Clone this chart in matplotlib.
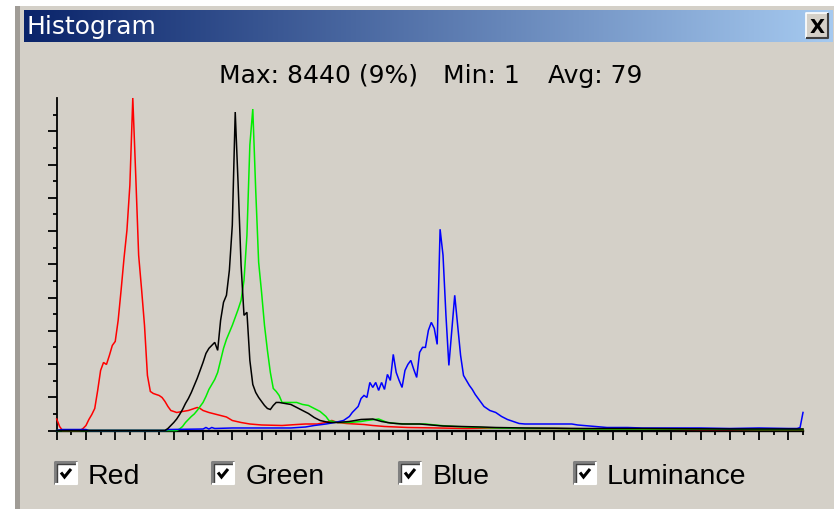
import matplotlib
matplotlib.use("Agg")
import matplotlib.pyplot as plt
import numpy as np
from matplotlib.patches import Rectangle

# ---------------- data (bin index, pixel count) ----------------
red_points = [(0, 292), (1, 100), (2, 0), (8, 0), (9, 51), (10, 127), (11, 280), (12, 406),
              (13, 559), (14, 1016), (15, 1524), (16, 1727), (17, 1676), (18, 1905), (19, 2159),
              (20, 2261), (21, 2796), (22, 3559), (23, 4372), (24, 5084), (25, 6228), (26, 8440),
              (27, 6482), (28, 4449), (29, 3584), (30, 2669), (31, 1398), (32, 991), (33, 940),
              (34, 914), (35, 889), (36, 838), (37, 737), (38, 610), (39, 508), (40, 483),
              (41, 457), (43, 483), (45, 508), (47, 559), (48, 584), (49, 559), (50, 508),
              (52, 457), (54, 419), (56, 381), (58, 343), (60, 254), (63, 203), (66, 165),
              (70, 140), (77, 127), (82, 152), (85, 165), (89, 165), (92, 203), (94, 254),
              (96, 203), (99, 178), (102, 165), (105, 152), (108, 127), (112, 102), (116, 89),
              (120, 76), (130, 64), (140, 51), (150, 64), (160, 51), (170, 51), (180, 38),
              (200, 38), (220, 25), (240, 25), (255, 25)]

green_points = [(0, 0), (41, 0), (42, 38), (43, 102), (44, 203), (45, 280), (46, 356), (47, 419),
                (48, 508), (49, 610), (50, 712), (51, 864), (52, 1042), (53, 1169), (54, 1296),
                (55, 1474), (56, 1779), (57, 2084), (58, 2313), (59, 2491), (60, 2669), (61, 2872),
                (62, 3076), (63, 3305), (64, 3813), (65, 4957), (66, 7245), (67, 8160), (68, 6101),
                (69, 4271), (70, 3508), (71, 2669), (72, 2034), (73, 1474), (74, 1068), (75, 991),
                (76, 890), (77, 712), (80, 712), (82, 712), (84, 661), (86, 636), (88, 559),
                (90, 483), (92, 356), (93, 254), (96, 203), (100, 203), (104, 229), (106, 254),
                (110, 292), (113, 203), (116, 178), (120, 165), (126, 165), (131, 127), (136, 102),
                (140, 89), (145, 76), (150, 64), (160, 51), (170, 51), (180, 38), (200, 38),
                (220, 38), (240, 25), (255, 25)]

blue_points = [(0, 0), (2, 25), (10, 25), (11, 0), (37, 0), (38, 25), (50, 38), (51, 76), (52, 38),
               (53, 76), (54, 51), (60, 64), (70, 64), (80, 64), (85, 89), (88, 127), (92, 165),
               (95, 203), (98, 254), (100, 356), (101, 458), (103, 610), (104, 813), (105, 890),
               (106, 839), (107, 1220), (108, 1093), (109, 1220), (110, 1017), (111, 1220),
               (112, 1042), (113, 1424), (114, 1271), (115, 1932), (116, 1474), (117, 1271),
               (118, 1093), (119, 1525), (120, 1678), (121, 1779), (122, 1551), (123, 1347),
               (124, 1983), (125, 2110), (126, 2110), (127, 2542), (128, 2745), (129, 2593),
               (130, 2186), (131, 5109), (132, 4449), (133, 2923), (134, 1652), (135, 2542),
               (136, 3432), (137, 2669), (138, 1907), (139, 1398), (140, 1271), (141, 1144),
               (142, 1042), (143, 915), (144, 813), (145, 712), (146, 610), (147, 559), (148, 508),
               (150, 458), (152, 356), (154, 280), (156, 229), (158, 178), (160, 165), (165, 165),
               (170, 165), (176, 165), (178, 140), (180, 127), (184, 102), (188, 76), (195, 76),
               (200, 64), (210, 64), (220, 64), (230, 51), (240, 64), (250, 51), (253, 51),
               (254, 76), (255, 458)]

lum_points = [(0, 0), (37, 0), (38, 51), (39, 127), (40, 203), (41, 292), (42, 407), (43, 534),
              (44, 686), (45, 813), (46, 966), (47, 1144), (48, 1322), (49, 1525), (50, 1729),
              (51, 1957), (52, 2084), (53, 2161), (54, 2237), (55, 2034), (56, 2796), (57, 3254),
              (58, 3432), (59, 4067), (60, 5211), (61, 8084), (62, 6228), (63, 4194), (64, 2923),
              (65, 3000), (66, 1779), (67, 1169), (68, 966), (69, 839), (70, 737), (71, 636),
              (72, 559), (73, 534), (74, 636), (75, 712), (76, 712), (78, 686), (80, 661),
              (82, 585), (84, 508), (86, 432), (88, 330), (90, 254), (93, 203), (96, 203),
              (100, 229), (104, 280), (108, 292), (111, 229), (114, 191), (118, 165), (124, 165),
              (128, 140), (132, 114), (138, 102), (145, 89), (150, 76), (160, 64), (180, 51),
              (200, 51), (230, 38), (255, 38)]

series_names = ["Red", "Green", "Blue", "Luminance"]
series_colors = ["#FF0000", "#00EE00", "#0000FF", "#000000"]
stats_texts = ["Max: 8440 (9%)", "Min: 1", "Avg: 79"]
title_text = "Histogram"
y_max = 8440
y_step = 844

# ---------------- figure ----------------
W, H = 834, 510
GREY = "#D4D0C8"
fig = plt.figure(figsize=(W / 100, H / 100), dpi=100, facecolor=GREY)

bg = fig.add_axes([0, 0, 1, 1], zorder=0)
bg.set_xlim(0, W)
bg.set_ylim(H, 0)
bg.axis("off")

# window frame
bg.add_patch(Rectangle((0, 0), 15, H, facecolor="white", edgecolor="none"))
bg.add_patch(Rectangle((0, 0), W, 7, facecolor="white", edgecolor="none"))
bg.add_patch(Rectangle((15, 7), 5, H, facecolor="#A09C96", edgecolor="none"))

# title bar gradient
c0 = np.array([10, 36, 106]) / 255
c1 = np.array([166, 202, 240]) / 255
t = np.linspace(0, 1, 400)[None, :, None]
grad = c0 + (c1 - c0) * t
bg.imshow(grad, extent=(24, 833, 43, 11), aspect="auto", interpolation="bilinear", zorder=1)
bg.set_xlim(0, W)
bg.set_ylim(H, 0)
bg.text(27, 27, title_text, color="white", fontsize=18, family="DejaVu Sans",
        va="center", ha="left", zorder=3)

# close button
bx, by, bw, bh = 806, 14, 22, 25
bg.add_patch(Rectangle((bx, by), bw, bh, facecolor=GREY, edgecolor="none", zorder=2))
bg.plot([bx, bx, bx + bw], [by + bh, by, by], color="white", lw=1.2, zorder=3, solid_capstyle="butt")
bg.plot([bx, bx + bw, bx + bw], [by + bh, by + bh, by], color="#404040", lw=1.5, zorder=3, solid_capstyle="butt")
bg.text(bx + bw / 2, by + bh / 2 + 1, "X", color="black", fontsize=14, family="DejaVu Sans",
        weight="bold", ha="center", va="center", zorder=4)

# stats line
for txt, x in zip(stats_texts, [219, 443, 548]):
    bg.text(x, 83, txt, fontsize=18, family="DejaVu Sans", color="#000000",
            ha="left", va="baseline")

# legend checkboxes
box_x = [55, 212, 399, 574]
label_x = [88, 246, 433, 607]
for name, bx0, lx in zip(series_names, box_x, label_x):
    y0, s = 463, 22
    bg.add_patch(Rectangle((bx0, y0), s, s, facecolor="white", edgecolor="none", zorder=2))
    bg.plot([bx0, bx0, bx0 + s], [y0 + s, y0, y0], color="#808080", lw=2.2, zorder=3,
            solid_capstyle="butt")
    bg.plot([bx0 + 2, bx0 + 2, bx0 + s - 1], [y0 + s - 1, y0 + 2, y0 + 2], color="#404040",
            lw=1.0, zorder=3, solid_capstyle="butt")
    bg.plot([bx0, bx0 + s, bx0 + s], [y0 + s, y0 + s, y0], color="white", lw=1.5, zorder=3,
            solid_capstyle="butt")
    bg.plot([bx0 + 6, bx0 + 9.5, bx0 + 16], [y0 + 10.5, y0 + 15, y0 + 7], color="black",
            lw=2.2, zorder=4, solid_joinstyle="miter", solid_capstyle="butt")
    bg.text(lx, 484, name, fontsize=20.5, family="Liberation Sans", color="black",
            ha="left", va="baseline")

# ---------------- histogram axes ----------------
x0, x1 = 56.7, 803.0
yb, yt = 431.5, 99.0
ax = fig.add_axes([x0 / W, (H - yb) / H, (x1 - x0) / W, (yb - yt) / H], zorder=2)
ax.patch.set_alpha(0)
ax.set_xlim(0, 255)
ax.set_ylim(0, y_max)

for pts, col in zip([red_points, green_points, blue_points, lum_points], series_colors):
    bins = [p[0] for p in pts]
    vals = [p[1] for p in pts]
    ax.plot(bins, vals, color=col, lw=1.1, clip_on=False, solid_joinstyle="miter")

ax.set_xticks(np.arange(0, 256, 10))
ax.set_xticks(np.arange(5, 256, 10), minor=True)
ax.set_yticks(np.arange(0, y_max, y_step))
ax.set_yticks(np.arange(y_step / 2, y_max, y_step), minor=True)
ax.tick_params(which="major", length=6.5, width=1.3, direction="out", color="black",
               labelbottom=False, labelleft=False)
ax.tick_params(which="minor", length=3.2, width=1.3, direction="out", color="black")
for side in ["top", "right"]:
    ax.spines[side].set_visible(False)
ax.spines["left"].set_linewidth(1.3)
ax.spines["bottom"].set_linewidth(1.7)
ax.spines["left"].set_zorder(1)
ax.spines["bottom"].set_zorder(1)

fig.savefig("out.png", dpi=100, facecolor=GREY)
